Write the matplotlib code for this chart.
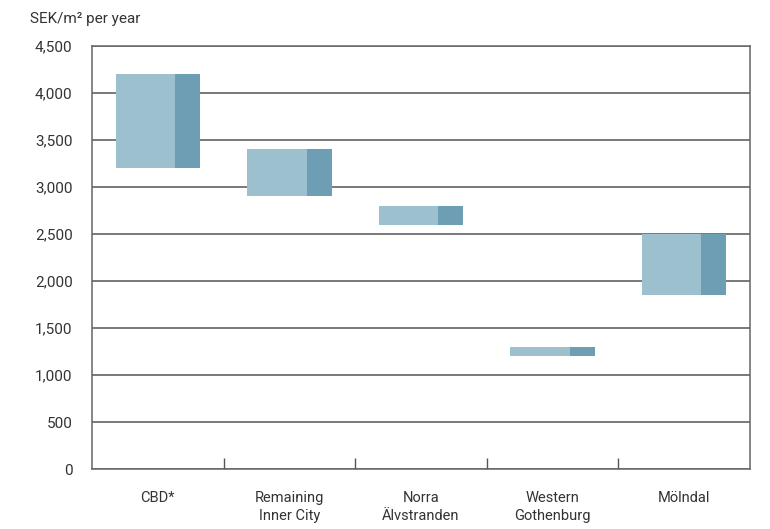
import numpy as np
import matplotlib.pyplot as plt

plt.rcParams['font.family'] = ['Roboto', 'DejaVu Sans']

# Rent ranges per area (SEK/m2 per year)
areas = ['CBD*', 'Remaining\nInner City', 'Norra\nÄlvstranden', 'Western\nGothenburg', 'Mölndal']
low = [3200, 2900, 2600, 1200, 1850]
high = [4200, 3400, 2800, 1300, 2500]

light = '#9dc0cf'
dark = '#6d9eb3'
text_col = '#333333'

fig = plt.figure(figsize=(7.7, 5.29), dpi=100)
ax = fig.add_axes([0.1195, 0.1134, 0.8545, 0.7996])

x = np.arange(len(areas))
heights = np.array(high) - np.array(low)
ax.bar(x - 0.32, heights, width=0.45, bottom=low, align='edge', color=light, zorder=3)
ax.bar(x + 0.13, heights, width=0.19, bottom=low, align='edge', color=dark, zorder=3)

ax.set_xlim(-0.5, len(areas) - 0.5)
ax.set_ylim(0, 4500)
ax.set_yticks(np.arange(0, 4501, 500))
ax.set_yticklabels([f'{v:,}' for v in range(0, 4501, 500)], fontsize=11, color=text_col)
ax.yaxis.grid(True, color='#555555', linewidth=1.1, zorder=1)
ax.tick_params(axis='y', length=0, pad=14)

ax.set_xticks(x)
ax.set_xticklabels(areas, fontsize=10.5, color=text_col, linespacing=1.3)
ax.tick_params(axis='x', length=0, pad=16)
ax.set_xticks(x[:-1] + 0.5, minor=True)
ax.tick_params(axis='x', which='minor', direction='in', length=8, color='#555555', width=1)

for s in ax.spines.values():
    s.set_color('#666666')
    s.set_linewidth(1.1)

fig.text(0.039, 0.965, 'SEK/m² per year', fontsize=11, color=text_col, va='center', ha='left')

fig.savefig('out.png', dpi=100)
